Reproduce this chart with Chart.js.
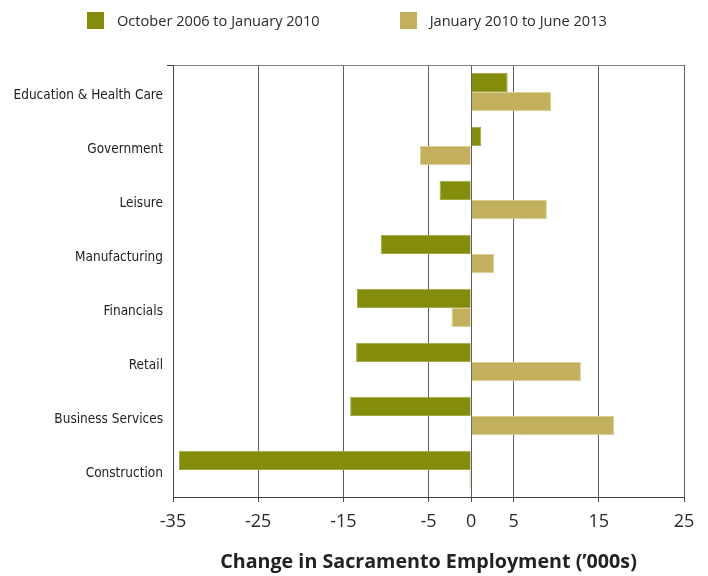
<!DOCTYPE html>
<html>
<head>
<meta charset="utf-8">
<script src="https://cdn.jsdelivr.net/npm/chart.js@4"></script>
<style>
  html, body { margin: 0; padding: 0; background: #fff; }
  #wrap { position: relative; width: 708px; height: 576px; }
  #legend { position: absolute; top: 10px; left: 87px; display: flex; font-family: "Open Sans", sans-serif; font-size: 14.6px; color: #2a2a2a; }
  .item { display: flex; align-items: center; }
  .box { width: 17px; height: 17px; margin-right: 13px; }
</style>
</head>
<body>
<div id="wrap">
  <canvas id="chart" width="708" height="576"></canvas>
  <div id="legend"></div>
</div>
<script>
// Sectors, top to bottom
const sectors = ["Education & Health Care", "Government", "Leisure", "Manufacturing",
                 "Financials", "Retail", "Business Services", "Construction"];

// Change in employment, thousands
const period1 = [4.3, 1.2, -3.7, -10.6, -13.4, -13.5, -14.2, -34.3]; // Oct 2006 - Jan 2010
const period2 = [9.4, -6.0, 8.9, 2.7, -2.3, 12.9, 16.8, -0.2];       // Jan 2010 - Jun 2013

const xTicks = [-35, -25, -15, -5, 0, 5, 15, 25];

const green = "#848c0c";
const tan = "#c3b05e";

const ctx = document.getElementById("chart").getContext("2d");
const chart = new Chart(ctx, {
    type: "bar",
    data: {
        labels: sectors,
        datasets: [
            { label: "October 2006 to January 2010", data: period1, backgroundColor: green, borderColor: "#a2a845", borderWidth: 1 },
            { label: "January 2010 to June 2013", data: period2, backgroundColor: tan, borderColor: "#dccf95", borderWidth: 1 }
        ]
    },
    options: {
        indexAxis: "y",
        responsive: false,
        animation: false,
        layout: { padding: { top: 65, right: 24, left: 0, bottom: 0 } },
        plugins: { legend: { display: false }, tooltip: { enabled: false } },
        datasets: { bar: { barPercentage: 1, categoryPercentage: 0.71 } },
        scales: {
            x: {
                min: -35,
                max: 25,
                afterBuildTicks: (scale) => { scale.ticks = xTicks.map(v => ({ value: v })); },
                afterFit: (scale) => { scale.height = 79; },
                grid: { color: "#5e5e5e", lineWidth: 1, tickLength: 5, tickColor: "#444" },
                border: { color: "#444", width: 1 },
                ticks: { color: "#2a2a2a", padding: 9, font: { family: "Open Sans", size: 18 } },
                title: {
                    display: true,
                    text: "Change in Sacramento Employment (’000s)",
                    color: "#222",
                    font: { family: "Open Sans", size: 19.7, weight: "bold" },
                    padding: { top: 0, bottom: 2 }
                }
            },
            y: {
                afterFit: (scale) => { scale.width = 173; },
                grid: {
                    color: (c) => (c.index === 0 || c.index === sectors.length) ? "#808080" : "rgba(0,0,0,0)",
                    tickColor: (c) => (c.index === 0 || c.index === sectors.length) ? "#444" : "rgba(0,0,0,0)",
                    tickLength: 6
                },
                border: { color: "#444", width: 1 },
                ticks: { color: "#222", padding: 4, labelOffset: 3, font: { family: "DejaVu Sans Condensed", size: 13.5 } }
            }
        }
    }
});

// HTML legend built from the chart's datasets
const legend = document.getElementById("legend");
chart.data.datasets.forEach((ds, i) => {
    const item = document.createElement("div");
    item.className = "item";
    if (i > 0) item.style.marginLeft = "80px";
    const box = document.createElement("span");
    box.className = "box";
    box.style.background = ds.backgroundColor;
    const txt = document.createElement("span");
    txt.textContent = ds.label;
    item.appendChild(box);
    item.appendChild(txt);
    legend.appendChild(item);
});
</script>
</body>
</html>
